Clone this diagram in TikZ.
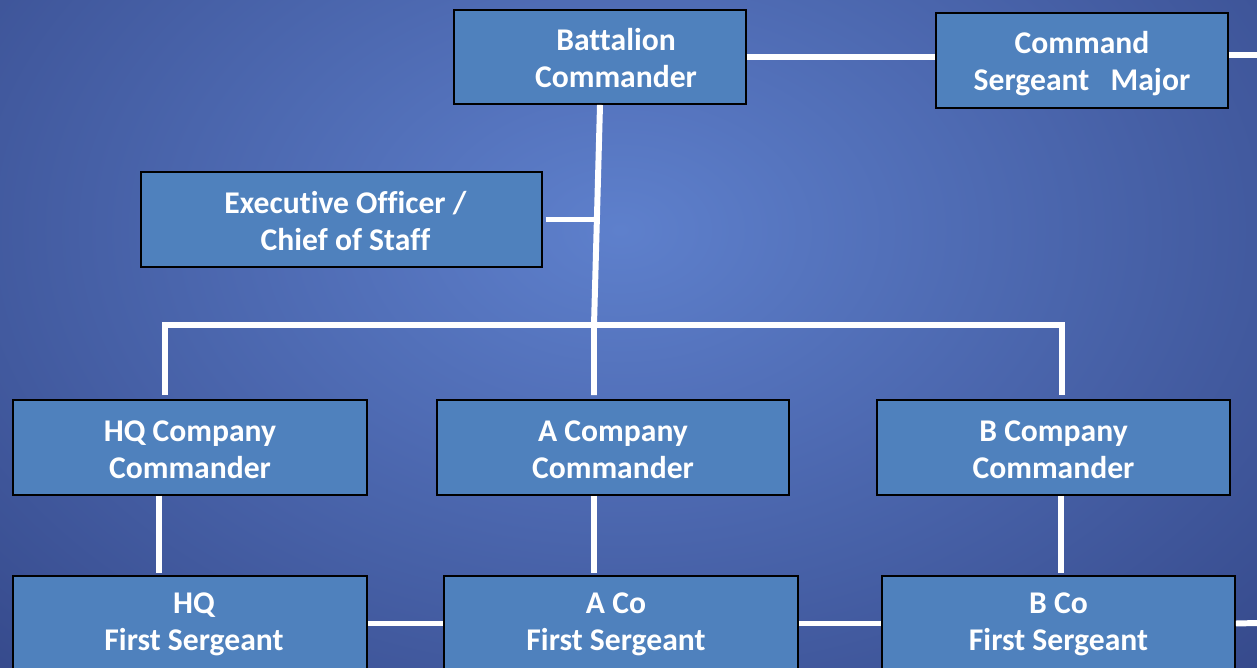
\documentclass[tikz,border=0pt]{standalone}
\usepackage{fontspec}
\setmainfont[Ligatures=NoCommon]{Carlito}
\usetikzlibrary{calc}

\definecolor{boxblue}{RGB}{79,129,189}
\definecolor{bglight}{RGB}{94,128,204}
\definecolor{bgdark}{RGB}{54,74,140}
\newcommand{\unitfont}{\fontsize{18}{21}\selectfont\bfseries}

\tikzset{
  unit/.style={draw=black, line width=1.1pt, fill=boxblue, text=white,
    font=\unitfont, align=center, inner sep=0pt, text height=35.2pt,
    minimum height=1.9cm},
  unittext/.style={text=white, font=\unitfont, align=center, inner sep=0pt,
    text height=35.2pt},
  link/.style={draw=white, line width=3.4pt},
}

\begin{document}
\begin{tikzpicture}[x=0.02cm,y=0.02cm]
\useasboundingbox (0,0) rectangle (1257,667);
\clip (0,0) rectangle (1257,667);
% background
\fill[bgdark] (0,0) rectangle (1257,667);
\shade[inner color=bglight, outer color=bgdark] (620,437) ellipse (900 and 620);

% staff
\node[unit, minimum width=5.84cm, minimum height=1.88cm,
  label={[unittext, xshift=0.32cm]center:Battalion\\Commander}] (bn) at (600,610) {};
\node[unit, minimum width=5.84cm, text height=37pt] (csm) at (1082,606.5) {Command\\Sergeant\ \ \ Major};
\node[unit, minimum width=8.02cm,
  label={[unittext, xshift=0.08cm]center:Executive Officer /\\Chief of Staff}] (xo) at (341.5,447.5) {};

% companies
\node[unit, minimum width=7.08cm] (hqcdr) at (190,219.5) {HQ Company\\Commander};
\node[unit, minimum width=7.04cm] (acdr) at (613,219.5) {A Company\\Commander};
\node[unit, minimum width=7.06cm] (bcdr) at (1053.5,219.5) {B Company\\Commander};

% first sergeants
\node[unit, minimum width=7.08cm,
  label={[unittext, xshift=0.08cm, yshift=0.03cm]center:HQ\\First Sergeant}] (hqsg) at (190,43.5) {};
\node[unit, minimum width=7.08cm,
  label={[unittext, xshift=-0.1cm, yshift=0.03cm]center:A Co\\First Sergeant}] (asg) at (621,43.5) {};
\node[unit, minimum width=7.06cm,
  label={[unittext, yshift=0.03cm]center:B Co\\First Sergeant}] (bsg) at (1058.5,43.5) {};

% connectors
\coordinate (hub) at (594,342);
\coordinate (barL) at (165,342);
\coordinate (barR) at (1062,342);
\coordinate (csmedge) at (1257,612);
\coordinate (sgedge) at (1257,44);

\draw[link] (bn.east) -- (bn.east -| csm.west);
\draw[link] (csm.east |- csmedge) -- (csmedge);
\draw[link] (bn.south) -- (hub) -- ($(hub |- acdr.north)+(0,4)$);
\draw[link] ($(xo.east)+(3,0)$) -- (xo.east -| hub);
\draw[link] ($(barL |- hqcdr.north)+(0,4)$) -- (barL) -- (barR) -- ($(barR |- bcdr.north)+(0,4)$);

\draw[link] ($(hqcdr.south)+(-31,0)$) -- ($(hqcdr.south |- hqsg.north)+(-31,2)$);
\draw[link] ($(acdr.south)+(-19,0)$) -- ($(acdr.south |- asg.north)+(-19,2)$);
\draw[link] ($(bcdr.south)+(7.5,0)$) -- ($(bcdr.south |- bsg.north)+(7.5,2)$);

\draw[link] (hqsg.east) -- (asg.west);
\draw[link] (asg.east) -- (bsg.west);
\draw[link] (bsg.east) -- (sgedge);
\end{tikzpicture}
\end{document}
